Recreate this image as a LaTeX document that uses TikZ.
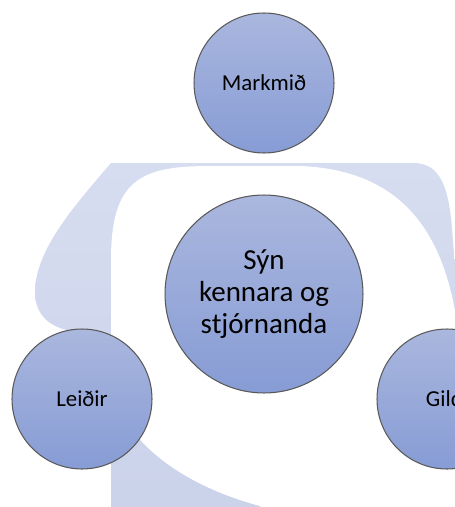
\documentclass[tikz,border=0pt]{standalone}
\usepackage{fontspec}
\setmainfont{Carlito}
\usetikzlibrary{positioning}
\definecolor{bandtop}{HTML}{D7DDF0}
\definecolor{bandbot}{HTML}{CAD2EA}
\definecolor{balltop}{HTML}{AAB7DE}
\definecolor{ballbot}{HTML}{879CD5}
\tikzset{
	ball/.style={circle, draw=black!65, line width=0.6pt, top color=balltop, bottom color=ballbot, text=black, align=center, inner sep=0pt, minimum size=2.8cm, font=\fontsize{13}{15}\selectfont},
	bigball/.style={ball, minimum size=3.96cm, font=\fontsize{16.5}{18}\selectfont}
}
\begin{document}
\begin{tikzpicture}[x=0.02cm, y=-0.02cm]
			\useasboundingbox (0,0) rectangle (455,507);
			\clip (0,0) rectangle (455,507);
			\shade [top color=bandtop, bottom color=bandbot] (111,163) -- (413,163) .. controls (440,163) and (450,185) .. (453,243) -- (470,400) -- (470,520) -- (111,520) -- (111,336) -- (80,332) .. controls (50,330) and (35,315) .. (35,292) .. controls (35,250) and (75,205) .. (111,163) -- cycle;
			\fill [white] (111,260) .. controls (111,180) and (140,166) .. (210,166) -- (300,166) .. controls (400,170) and (445,230) .. (458,330) -- (480,330) -- (480,520) -- (268,520) -- (260,506) .. controls (200,490) and (150,460) .. (125,420) -- (111,400) -- cycle;
			\node [ball] (goal) at (264,83) {Markmið};
			\node [bigball] (vision) at (264,294) {Sýn\\kennara og\\stjórnanda};
			\node [ball] (ways) at (82,399) {Leiðir};
			\node [ball] (values) at (447,399) {Gildi};
	\end{tikzpicture}
\end{document}
